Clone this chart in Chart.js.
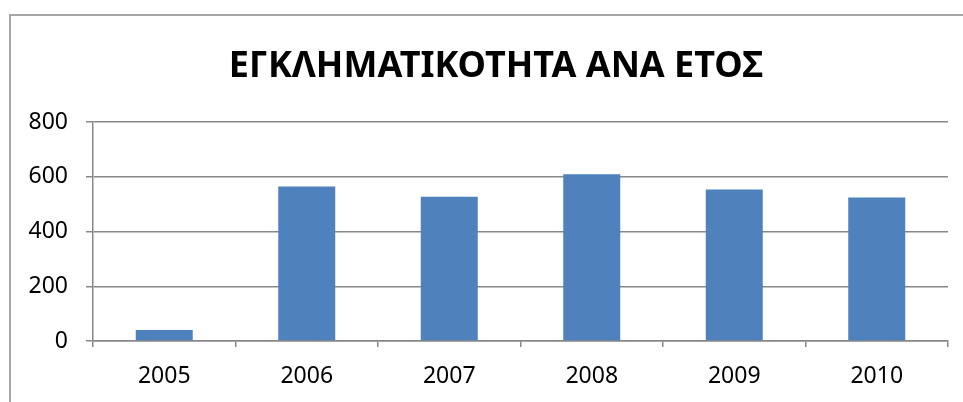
<!DOCTYPE html>
<html>
<head>
<meta charset="utf-8">
<script src="https://cdn.jsdelivr.net/npm/chart.js@4"></script>
<style>
html,body{margin:0;padding:0;background:#fff;width:963px;height:402px;overflow:hidden;}
canvas{display:block;}
</style>
</head>
<body>
<canvas id="c" width="963" height="402"></canvas>
<script>
const titleText = 'ΕΓΚΛΗΜΑΤΙΚΟΤΗΤΑ ΑΝΑ ΕΤΟΣ';
const years = ['2005', '2006', '2007', '2008', '2009', '2010'];
const crimes = [40, 564, 527, 609, 553, 524];
const yTicks = [0, 200, 400, 600, 800];

const fam = '"Noto Sans", sans-serif';

const frameAndTitle = {
  id: 'frameAndTitle',
  beforeDraw(chart) {
    const ctx = chart.ctx;
    ctx.save();
    ctx.fillStyle = '#fff';
    ctx.fillRect(0, 0, chart.width, chart.height);
    ctx.strokeStyle = '#a6a6a6';
    ctx.lineWidth = 2;
    ctx.beginPath();
    ctx.moveTo(10, chart.height);
    ctx.lineTo(10, 15);
    ctx.lineTo(chart.width, 15);
    ctx.stroke();
    ctx.restore();
  },
  afterDraw(chart) {
    const ctx = chart.ctx;
    ctx.save();
    ctx.fillStyle = '#000';
    ctx.font = 'bold 36px ' + fam;
    ctx.textAlign = 'center';
    ctx.textBaseline = 'alphabetic';
    ctx.fillText(titleText, 496, 77);
    ctx.restore();
  }
};

new Chart(document.getElementById('c'), {
  type: 'bar',
  data: {
    labels: years,
    datasets: [{
      data: crimes,
      backgroundColor: '#4F81BD',
      borderWidth: 0,
      barPercentage: 0.4,
      categoryPercentage: 1.0
    }]
  },
  options: {
    responsive: false,
    animation: false,
    layout: { padding: { left: 0, right: 15, top: 122, bottom: 0 } },
    plugins: {
      legend: { display: false },
      tooltip: { enabled: false },
      title: { display: false }
    },
    scales: {
      x: {
        grid: { display: true, drawOnChartArea: false, drawTicks: true, tickLength: 6, color: '#888', offset: true, lineWidth: 1.5 },
        border: { display: true, color: '#888', width: 1.5 },
        ticks: { color: '#000', font: { family: fam, size: 23 }, padding: 16 },
        afterFit: s => { s.height = 61; }
      },
      y: {
        min: 0, max: 800,
        afterBuildTicks: s => { s.ticks = yTicks.map(v => ({ value: v })); },
        grid: { color: '#888', lineWidth: 1.5, tickLength: 7 },
        border: { display: true, color: '#888', width: 1.5 },
        ticks: { color: '#000', font: { family: fam, size: 23 }, padding: 18 },
        afterFit: s => { s.width = 93; }
      }
    }
  },
  plugins: [frameAndTitle]
});
</script>
</body>
</html>
